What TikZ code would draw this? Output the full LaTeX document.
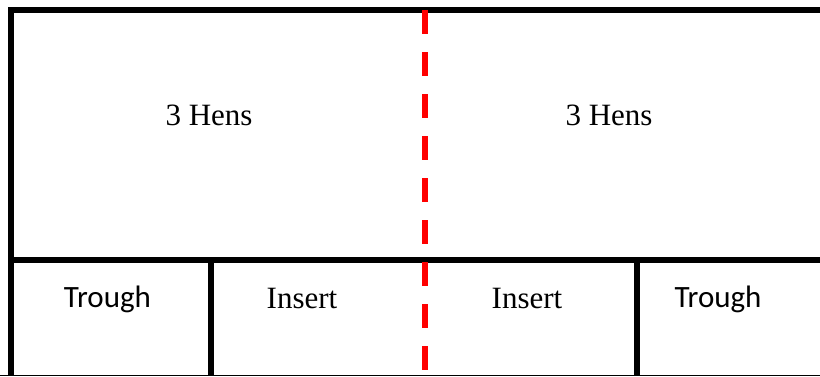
\documentclass[tikz,border=0pt]{standalone}
\usepackage{fontspec}
\usepackage{xcolor}
\setmainfont{Liberation Serif}
\newfontfamily\troughfont{Carlito}
\definecolor{dividerRed}{HTML}{FF0000}
\definecolor{wallBlack}{HTML}{000000}

\begin{document}
\begin{tikzpicture}[
  x=1pt, y=1pt,
  wall/.style={draw=wallBlack, line width=6pt, line join=miter},
  floorline/.style={draw=wallBlack, line width=1pt},
  divider/.style={draw=dividerRed, line width=6pt, dash pattern=on 23.7pt off 18.3pt},
  roomtext/.style={anchor=base, inner sep=0pt, font=\fontsize{31}{36}\selectfont},
  troughtext/.style={anchor=base, inner sep=0pt, font=\troughfont\fontsize{31}{36}\selectfont}
]
\useasboundingbox (0,0) rectangle (820,376);

% pen outline
\draw[wall] (820,366) -- (11,366) -- (11,0);
\draw[wall] (11,116.3) -- (820,116.3);
\draw[wall] (211,116.3) -- (211,0);
\draw[wall] (637,116.3) -- (637,0);
\draw[floorline] (0,1) -- (820,1);

% split between the two pens
\draw[divider] (425,366) -- (425,0);

\node[roomtext] (hensL) at (209,251) {3 Hens};
\node[roomtext] (hensR) at (609,251) {3 Hens};

\node[troughtext] (troughL) at (107.5,69) {Trough};
\node[roomtext] (insertL) at (302,68) {Insert};
\node[roomtext] (insertR) at (527,68) {Insert};
\node[troughtext] (troughR) at (718,69) {Trough};

\end{tikzpicture}
\end{document}
